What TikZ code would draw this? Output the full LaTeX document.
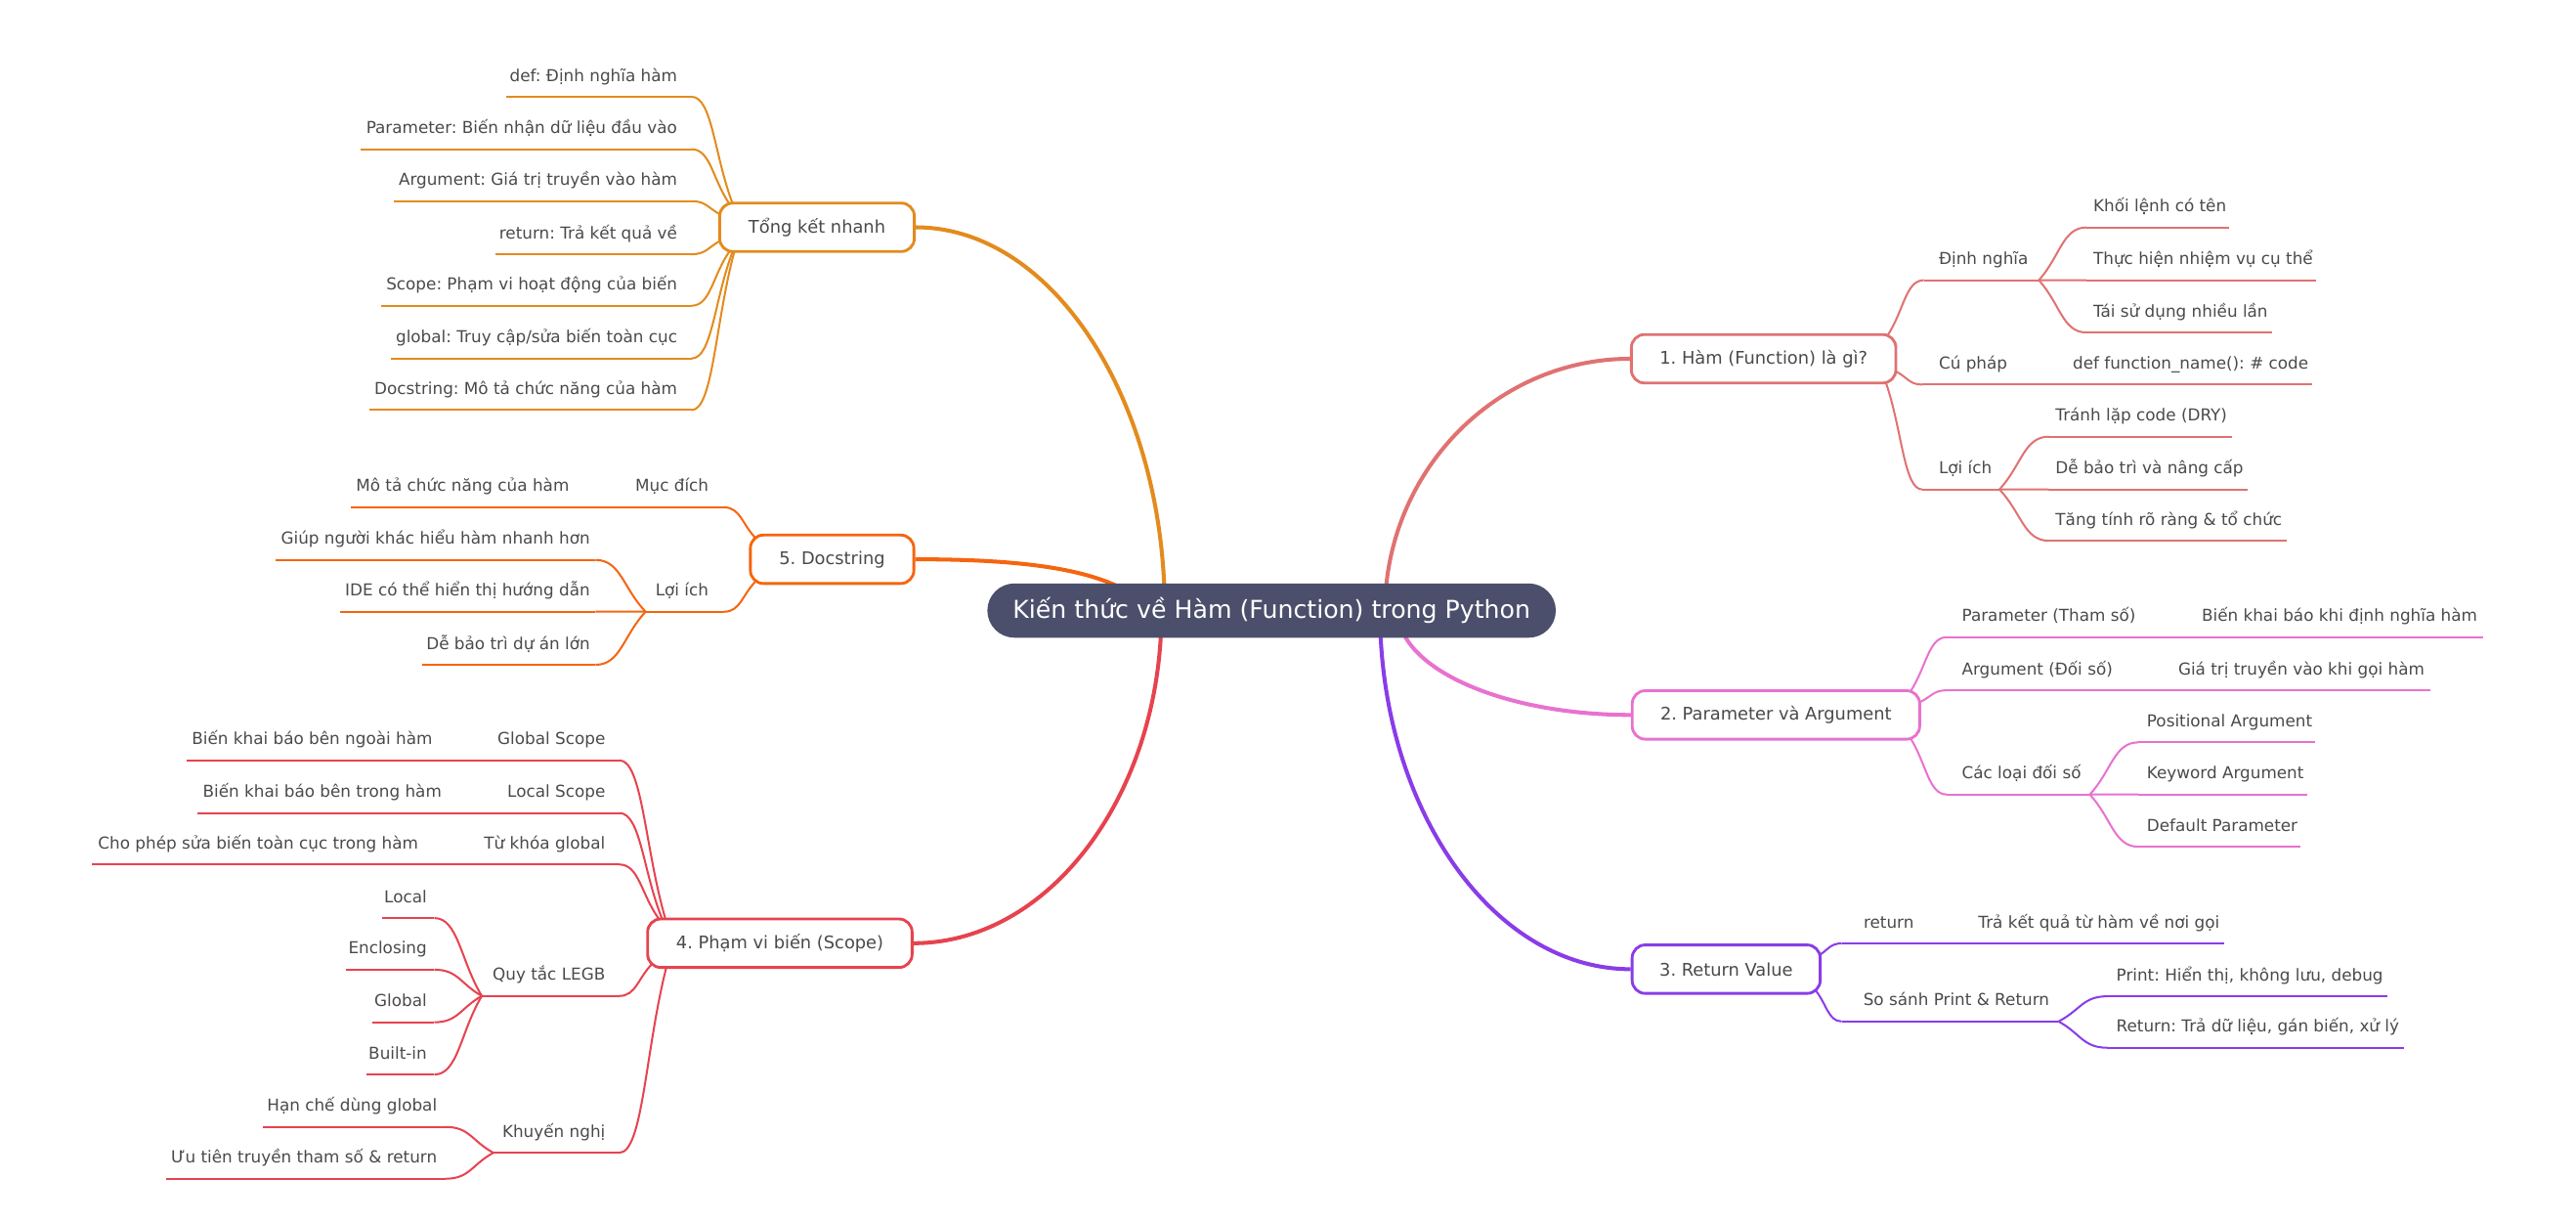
\documentclass[tikz,border=0pt]{standalone}
\usepackage{fontspec}
\setmainfont{DejaVu Sans}
\usetikzlibrary{calc}
\frenchspacing
\pgfdeclarelayer{bg}
\pgfsetlayers{bg,main}
\definecolor{cA}{HTML}{E38B1E}
\definecolor{cB}{HTML}{E07272}
\definecolor{cC}{HTML}{E872CF}
\definecolor{cD}{HTML}{8A3CE8}
\definecolor{cE}{HTML}{E6434F}
\definecolor{cF}{HTML}{F5650F}
\definecolor{rootc}{HTML}{4B4F6B}
\definecolor{txt}{HTML}{4A4A4A}
\tikzset{
  lf/.style={font=\fontsize{10}{12}\selectfont, text=txt, inner sep=0pt},
  box/.style={draw, fill=white, line width=1.7pt, rounded corners=8pt, minimum height=29.5pt, inner sep=0pt, font=\fontsize{10.6}{12}\selectfont, text=txt},
  rootbox/.style={fill=rootc, rounded corners=16.5pt, minimum width=346pt, minimum height=33pt, inner sep=0pt, font=\fontsize{15}{18}\selectfont, text=white},
  ln/.style={line width=1.2pt},
  mn/.style={line width=2.4pt}
}
\newcommand\lk[3]{\draw[ln,#1] (#2) .. controls ($(#2)!0.45!(#3)$) and ($(#3)!0.5!(#2|-#3)$) .. (#3);}
\newcommand\mk[3]{\draw[mn,#1] (#2) .. controls ($(#2)!0.55!(#2|-#3)$) and ($(#3)!0.55!(#2|-#3)$) .. (#3);}
\newcommand\tp[9]{%
  \coordinate (#1s) at (#4,#5);
  \coordinate (#1e) at (#6,#5);
  \lk{#2}{#3}{#1s}
  \draw[ln,#2] (#1s) -- (#1e);
  \node[lf,anchor=base #8] (#1) at (#7,#5-9.5) {#9};
}
\begin{document}
\begin{tikzpicture}[x=1pt,y=-1pt]
\useasboundingbox (0,0) rectangle (1568,744);

\node[rootbox] (root) at (774,371.5) {Kiến thức về Hàm (Function) trong Python};
\node[box,draw=cA,minimum width=118.5pt] (b0) at (497.3,138.3) {Tổng kết nhanh};
\node[box,draw=cB,minimum width=161pt] (b1) at (1073.5,218.3) {1. Hàm (Function) là gì?};
\node[box,draw=cC,minimum width=175pt] (b2) at (1081,435) {2. Parameter và Argument};
\node[box,draw=cD,minimum width=114.5pt] (b3) at (1050.7,589.7) {3. Return Value};
\node[box,draw=cE,minimum width=161pt] (b4) at (474.7,573.9) {4. Phạm vi biến (Scope)};
\node[box,draw=cF,minimum width=99.5pt] (b5) at (506.5,340.3) {5. Docstring};

\begin{pgfonlayer}{bg}
\coordinate (r0) at (709,372);
\coordinate (r1) at (843,372);
\coordinate (r2) at (851,372);
\coordinate (r3) at (840,372);
\coordinate (r4) at (707,372);
\coordinate (r5) at (690,362);
\mk{cA}{r0}{b0.east}
\mk{cB}{r1}{b1.west}
\mk{cC}{r2}{b2.west}
\mk{cD}{r3}{b3.west}
\mk{cE}{r4}{b4.east}
\draw[mn,cF] (b5.east) .. controls +(65,0) and +(-25,-16) .. (r5);

\coordinate (p01) at (446,124);
\coordinate (p02) at (444,124);
\coordinate (p03) at (439.5,131);
\coordinate (p04) at (439.5,146);
\coordinate (p05) at (444,153);
\coordinate (p06) at (446,153);
\coordinate (p07) at (447,153);
\tp{t01}{cA}{p01}{421}{58.9}{308.4}{412.4}{east}{def: Định nghĩa hàm}
\tp{t02}{cA}{p02}{421}{90.8}{219.5}{412.4}{east}{Parameter: Biến nhận dữ liệu đầu vào}
\tp{t03}{cA}{p03}{421}{122.4}{240}{412.4}{east}{Argument: Giá trị truyền vào hàm}
\tp{t04}{cA}{p04}{421}{154.7}{301.6}{412.4}{east}{return: Trả kết quả về}
\tp{t05}{cA}{p05}{421}{186}{232}{412.4}{east}{Scope: Phạm vi hoạt động của biến}
\tp{t06}{cA}{p06}{421}{218.1}{237.8}{412.4}{east}{global: Truy cập/sửa biến toàn cục}
\tp{t07}{cA}{p07}{421}{249.5}{224.6}{412.4}{east}{Docstring: Mô tả chức năng của hàm}

\coordinate (p51) at (460.7,328.2);
\coordinate (p52) at (460.7,353);
\tp{t51}{cF}{p51}{440.8}{308.7}{370}{431.5}{east}{Mục đích}
\tp{t511}{cF}{t51e}{370}{308.7}{213.8}{346.6}{east}{Mô tả chức năng của hàm}
\tp{t52}{cF}{p52}{440.8}{372.2}{393}{431.5}{east}{Lợi ích}
\tp{t521}{cF}{t52e}{362.5}{340.7}{167.8}{359.3}{east}{Giúp người khác hiểu hàm nhanh hơn}
\tp{t522}{cF}{t52e}{362.5}{372.2}{207.1}{359.3}{east}{IDE có thể hiển thị hướng dẫn}
\tp{t523}{cF}{t52e}{362.5}{404.5}{257}{359.3}{east}{Dễ bảo trì dự án lớn}

\coordinate (p41) at (405,559);
\coordinate (p42) at (403,559);
\coordinate (p43) at (401,559);
\coordinate (p44) at (397.4,586);
\coordinate (p45) at (405.6,588.5);
\tp{t41}{cE}{p41}{377}{462.6}{285}{368.6}{east}{Global Scope}
\tp{t411}{cE}{t41e}{285}{462.6}{113.5}{263.4}{east}{Biến khai báo bên ngoài hàm}
\tp{t42}{cE}{p42}{377}{494.7}{290}{368.6}{east}{Local Scope}
\tp{t421}{cE}{t42e}{290}{494.7}{120.3}{269}{east}{Biến khai báo bên trong hàm}
\tp{t43}{cE}{p43}{377}{526}{272}{368.6}{east}{Từ khóa global}
\tp{t431}{cE}{t43e}{272}{526}{56.2}{254.8}{east}{Cho phép sửa biến toàn cục trong hàm}
\tp{t44}{cE}{p44}{377}{606}{293.3}{368.6}{east}{Quy tắc LEGB}
\tp{t441}{cE}{t44e}{264.4}{558.6}{232.6}{260}{east}{Local}
\tp{t442}{cE}{t44e}{264.4}{590}{210.5}{260}{east}{Enclosing}
\tp{t443}{cE}{t44e}{264.4}{622}{226.5}{260}{east}{Global}
\tp{t444}{cE}{t44e}{264.4}{653.8}{223}{260}{east}{Built-in}
\tp{t45}{cE}{p45}{377}{701.4}{300.3}{368.6}{east}{Khuyến nghị}
\tp{t451}{cE}{t45e}{271.3}{685.7}{160.3}{266.2}{east}{Hạn chế dùng global}
\tp{t452}{cE}{t45e}{271.3}{717.2}{101.1}{266.2}{east}{Ưu tiên truyền tham số \& return}

\coordinate (p11) at (1149,204);
\coordinate (p12) at (1154,226);
\coordinate (p13) at (1148,233);
\tp{t11}{cB}{p11}{1171}{170.5}{1241}{1180}{west}{Định nghĩa}
\tp{t111}{cB}{t11e}{1270}{138.4}{1357}{1274}{west}{Khối lệnh có tên}
\tp{t112}{cB}{t11e}{1270}{170.5}{1410}{1274}{west}{Thực hiện nhiệm vụ cụ thể}
\tp{t113}{cB}{t11e}{1270}{202.3}{1383}{1274}{west}{Tái sử dụng nhiều lần}
\tp{t12}{cB}{p12}{1170}{234}{1241}{1180}{west}{Cú pháp}
\tp{t121}{cB}{t12e}{1241}{234}{1407.6}{1261.5}{west}{def function\_name(): \# code}
\tp{t13}{cB}{p13}{1170}{297.8}{1217}{1180}{west}{Lợi ích}
\tp{t131}{cB}{t13e}{1247}{265.7}{1358.7}{1251}{west}{Tránh lặp code (DRY)}
\tp{t132}{cB}{t13e}{1247}{297.8}{1368}{1251}{west}{Dễ bảo trì và nâng cấp}
\tp{t133}{cB}{t13e}{1247}{329}{1392}{1251}{west}{Tăng tính rõ ràng \& tổ chức}

\coordinate (p21) at (1162.5,421.3);
\coordinate (p22) at (1168,427.5);
\coordinate (p23) at (1162.5,448.6);
\tp{t21}{cC}{p21}{1185}{387.7}{1330}{1194}{west}{Parameter (Tham số)}
\tp{t211}{cC}{t21e}{1330}{387.7}{1511.6}{1340}{west}{Biến khai báo khi định nghĩa hàm}
\tp{t22}{cC}{p22}{1185}{420}{1316}{1194}{west}{Argument (Đối số)}
\tp{t221}{cC}{t22e}{1316}{420}{1479.5}{1325.7}{west}{Giá trị truyền vào khi gọi hàm}
\tp{t23}{cC}{p23}{1185}{483.4}{1272}{1194}{west}{Các loại đối số}
\tp{t231}{cC}{t23e}{1301.6}{451.7}{1409}{1306.6}{west}{Positional Argument}
\tp{t232}{cC}{t23e}{1301.6}{483.4}{1404.3}{1306.6}{west}{Keyword Argument}
\tp{t233}{cC}{t23e}{1301.6}{515.2}{1400.4}{1306.6}{west}{Default Parameter}

\coordinate (p31) at (1106,582);
\coordinate (p32) at (1104.5,601.8);
\tp{t31}{cD}{p31}{1121}{574}{1190}{1134.2}{west}{return}
\tp{t311}{cD}{t31e}{1190}{574}{1353.8}{1204}{west}{Trả kết quả từ hàm về nơi gọi}
\tp{t32}{cD}{p32}{1121}{621.5}{1253}{1134}{west}{So sánh Print \& Return}
\tp{t321}{cD}{t32e}{1282.7}{606.2}{1453.3}{1288}{west}{Print: Hiển thị, không lưu, debug}
\tp{t322}{cD}{t32e}{1282.7}{637.5}{1463}{1288}{west}{Return: Trả dữ liệu, gán biến, xử lý}
\end{pgfonlayer}
\end{tikzpicture}
\end{document}
